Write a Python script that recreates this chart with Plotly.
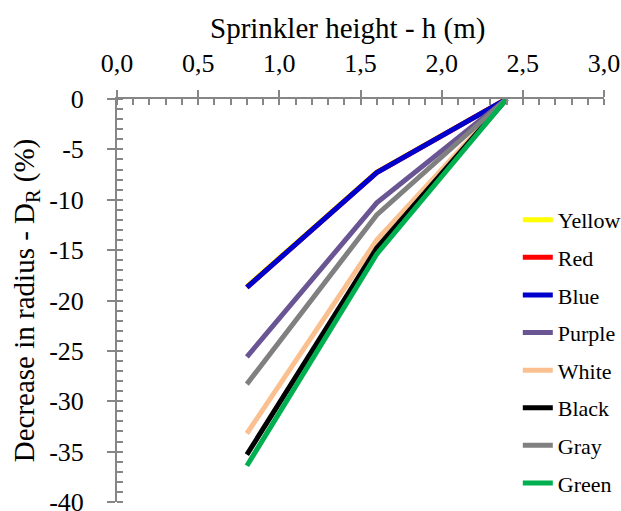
import plotly.graph_objects as go

# Sprinkler heights (m) and the decrease in wetted radius (%) per nozzle colour
heights = [0.8, 1.6, 2.4]
names = ["Yellow", "Red", "Blue", "Purple", "White", "Black", "Gray", "Green"]
yellow = [-18.6, -7.25, 0.0]
red = [-18.7, -7.3, 0.0]
blue = [-18.7, -7.3, 0.0]
purple = [-25.6, -10.3, 0.0]
white = [-33.2, -14.0, 0.0]
black = [-35.3, -14.8, 0.0]
gray = [-28.3, -11.5, 0.0]
green = [-36.4, -15.4, 0.0]
series = [yellow, red, blue, purple, white, black, gray, green]
colors = ["#FFFF00", "#FF0000", "#0000CC", "#6A5594", "#FAC090", "#000000", "#808080", "#00B050"]

x_ticks = [0.0, 0.5, 1.0, 1.5, 2.0, 2.5, 3.0]
x_labels = ["0,0", "0,5", "1,0", "1,5", "2,0", "2,5", "3,0"]
y_ticks = [0, -5, -10, -15, -20, -25, -30, -35, -40]
y_labels = ["0", "-5", "-10", "-15", "-20", "-25", "-30", "-35", "-40"]

AXIS = "#868686"
FONT = "Liberation Serif"

fig = go.Figure()
for name, vals, col in zip(names, series, colors):
    fig.add_trace(go.Scatter(
        x=heights, y=vals, name=name, mode="lines",
        line=dict(color=col, width=5),
        legendgroup=name,
    ))

# x-axis title, set over the top axis
fig.add_annotation(
    text="Sprinkler height - h (m)", xref="paper", yref="paper",
    x=0.4733, y=1.176, xanchor="center", yanchor="middle",
    showarrow=False, font=dict(family=FONT, size=29, color="black"),
)

fig.update_layout(
    width=621, height=511,
    margin=dict(l=117, r=17, t=99, b=9, autoexpand=False),
    plot_bgcolor="white", paper_bgcolor="white",
    font=dict(family=FONT, color="black", size=26),
    showlegend=True,
    legend=dict(
        x=0.823, y=0.752, xanchor="left", yanchor="top",
        font=dict(family=FONT, size=22, color="black"),
        bgcolor="rgba(0,0,0,0)",
        borderwidth=0,
        tracegroupgap=6,
        maxheight=1,
    ),
    xaxis=dict(
        side="top", range=[0, 3], automargin=False,
        tickvals=x_ticks, ticktext=x_labels,
        showgrid=False, zeroline=False,
        showline=True, linecolor=AXIS, linewidth=2,
        ticks="outside", ticklen=7, tickwidth=2, tickcolor=AXIS,
        ticklabelstandoff=8,
        minor=dict(ticks="inside", ticklen=6, tickwidth=2, tickcolor=AXIS, dtick=0.1),
        tickfont=dict(family=FONT, size=26),
    ),
    xaxis2=dict(
        overlaying="x", matches="x", side="top", anchor="y",
        tickvals=x_ticks, showticklabels=False,
        showgrid=False, zeroline=False, showline=False,
        ticks="inside", ticklen=7, tickwidth=2, tickcolor=AXIS,
    ),
    yaxis=dict(
        range=[-40, 0], automargin=False,
        tickvals=y_ticks, ticktext=y_labels,
        showgrid=False, zeroline=False,
        showline=True, linecolor=AXIS, linewidth=2,
        ticks="outside", ticklen=8, tickwidth=2, tickcolor=AXIS,
        ticklabelstandoff=18,
        ticklabeloverflow="allow",
        minor=dict(ticks="inside", ticklen=6, tickwidth=2, tickcolor=AXIS, dtick=1),
        tickfont=dict(family=FONT, size=26),
        title=dict(text="Decrease in radius - D<sub>R</sub> (%)", font=dict(family=FONT, size=29), standoff=6),
    ),
    yaxis2=dict(
        overlaying="y", matches="y", side="left", anchor="x",
        tickvals=y_ticks, showticklabels=False,
        showgrid=False, zeroline=False, showline=False,
        ticks="inside", ticklen=8, tickwidth=2, tickcolor=AXIS,
    ),
)

fig.write_html("out.html")
